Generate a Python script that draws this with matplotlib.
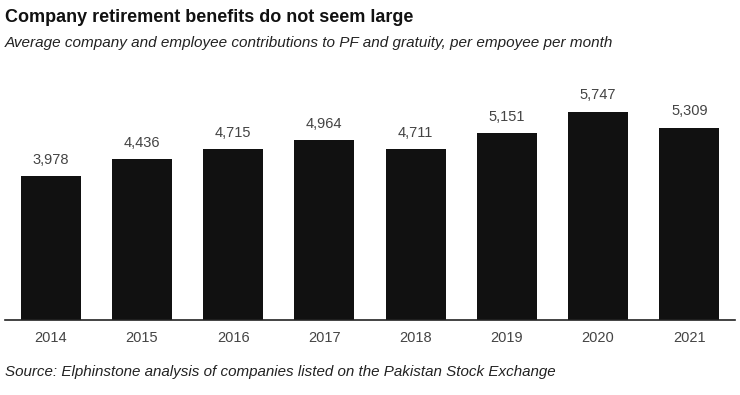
import matplotlib.pyplot as plt

# Contributions per employee per month (PKR)
years = ['2014', '2015', '2016', '2017', '2018', '2019', '2020', '2021']
values = [3978, 4436, 4715, 4964, 4711, 5151, 5747, 5309]

plt.rcParams['font.family'] = ['Liberation Sans', 'DejaVu Sans']

fig = plt.figure(figsize=(7.4, 3.95), dpi=100)
ax = fig.add_axes([5 / 740, 75 / 395, 730 / 740, 260 / 395])

x = range(len(years))
ax.bar(x, values, width=0.66, color='#111111')

for i, v in enumerate(values):
    ax.text(i, v + 260, f'{v:,}', ha='center', va='bottom', fontsize=10.5, color='#444444')

ax.set_xlim(-0.5, len(years) - 0.5)
ax.set_ylim(0, 7180)
ax.set_xticks(list(x))
ax.set_xticklabels(years, fontsize=10.5, color='#444444')
ax.tick_params(axis='x', length=0, pad=8)
ax.set_yticks([])
for s in ['top', 'right', 'left']:
    ax.spines[s].set_visible(False)
ax.spines['bottom'].set_color('#222222')
ax.spines['bottom'].set_linewidth(1.2)

fig.text(5 / 740, 1 - 17 / 395, 'Company retirement benefits do not seem large',
         fontsize=13, fontweight='bold', va='center', ha='left', color='#111111')
fig.text(5 / 740, 1 - 43 / 395,
         'Average company and employee contributions to PF and gratuity, per empoyee per month',
         fontsize=11, style='italic', va='center', ha='left', color='#222222')
fig.text(5 / 740, 1 - 372 / 395,
         'Source: Elphinstone analysis of companies listed on the Pakistan Stock Exchange',
         fontsize=10.9, style='italic', va='center', ha='left', color='#222222')

fig.savefig('out.png', dpi=100)
